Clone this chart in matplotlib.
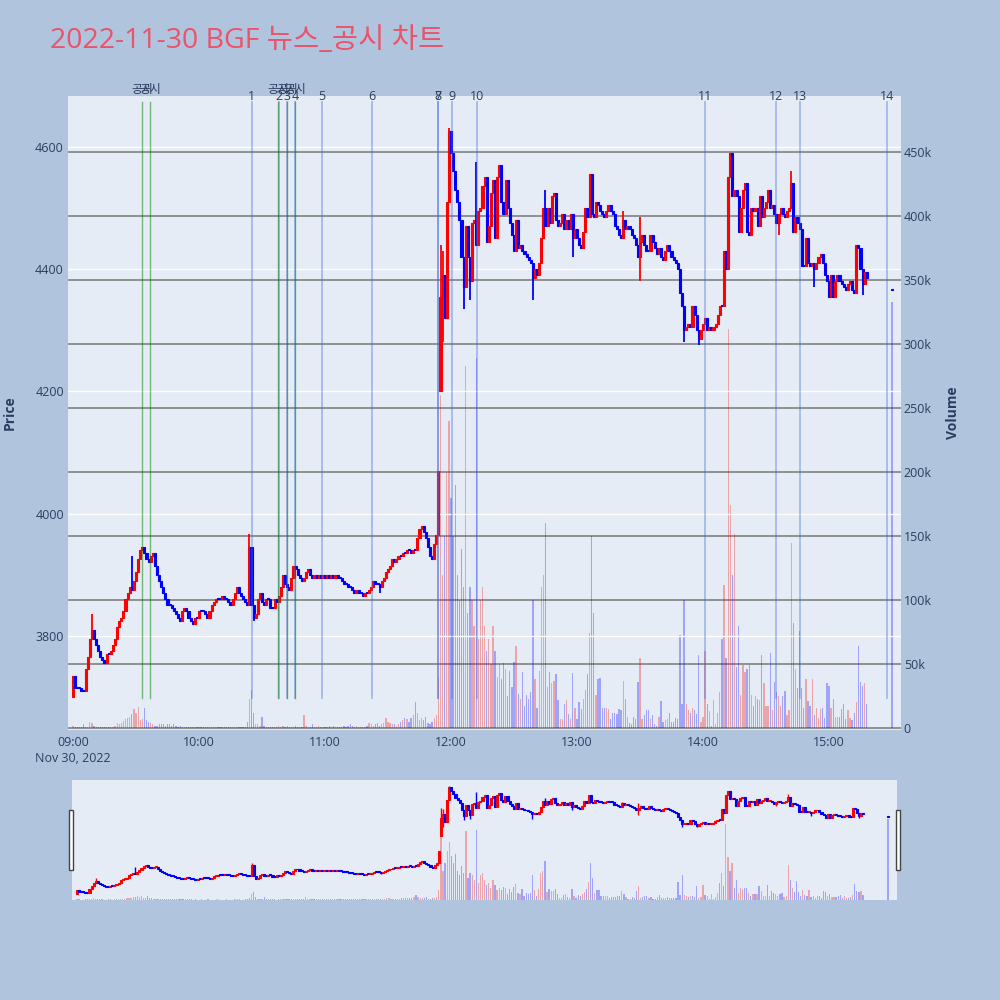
import matplotlib
matplotlib.use('Agg')
import matplotlib.pyplot as plt
from matplotlib.patches import Rectangle
import numpy as np

plt.rcParams['font.family'] = ['Open Sans', 'Noto Sans CJK KR', 'DejaVu Sans']

TITLE = '2022-11-30 BGF 뉴스_공시 차트'

# minute-by-minute close prices, 09:00 .. 15:18
closes = [
    3735, 3715, 3715, 3715, 3710, 3710, 3745, 3765, 3795, 3810,
    3795, 3785, 3775, 3765, 3760, 3755, 3770, 3770, 3775, 3785,
    3795, 3815, 3825, 3830, 3840, 3860, 3870, 3880, 3875, 3890,
    3905, 3925, 3940, 3945, 3935, 3925, 3920, 3930, 3935, 3915,
    3900, 3890, 3880, 3870, 3860, 3850, 3850, 3845, 3840, 3835,
    3830, 3825, 3840, 3845, 3840, 3830, 3825, 3820, 3830, 3830,
    3840, 3840, 3840, 3835, 3830, 3840, 3850, 3855, 3860, 3860,
    3860, 3865, 3860, 3860, 3855, 3850, 3860, 3870, 3880, 3870,
    3865, 3860, 3855, 3850, 3945, 3850, 3830, 3835, 3860, 3870,
    3855, 3850, 3860, 3860, 3845, 3845, 3860, 3855, 3865, 3880,
    3900, 3885, 3880, 3875, 3895, 3915, 3910, 3900, 3895, 3890,
    3895, 3905, 3910, 3900, 3895, 3900, 3895, 3900, 3895, 3900,
    3895, 3900, 3895, 3900, 3895, 3900, 3895, 3895, 3890, 3885,
    3885, 3880, 3880, 3875, 3870, 3875, 3870, 3870, 3865, 3870,
    3870, 3875, 3880, 3890, 3885, 3885, 3880, 3890, 3895, 3905,
    3910, 3915, 3925, 3920, 3925, 3930, 3930, 3935, 3935, 3940,
    3940, 3935, 3940, 3940, 3960, 3975, 3980, 3970, 3960, 3945,
    3930, 3925, 3950, 3965, 4070, 4355, 4390, 4320, 4510, 4625,
    4590, 4560, 4530, 4510, 4480, 4420, 4370, 4470, 4420, 4380,
    4475, 4480, 4440, 4495, 4500, 4535, 4550, 4445, 4470, 4525,
    4545, 4450, 4550, 4570, 4510, 4490, 4545, 4500, 4475, 4455,
    4430, 4480, 4435, 4440, 4430, 4425, 4420, 4415, 4410, 4385,
    4400, 4390, 4410, 4450, 4500, 4470, 4500, 4475, 4520, 4525,
    4480, 4470, 4475, 4490, 4465, 4480, 4465, 4490, 4450, 4465,
    4450, 4440, 4435, 4460, 4500, 4485, 4555, 4490, 4485, 4510,
    4505, 4495, 4490, 4485, 4495, 4505, 4495, 4490, 4470, 4465,
    4455, 4450, 4480, 4465, 4470, 4465, 4455, 4450, 4440, 4420,
    4445, 4455, 4440, 4430, 4430, 4455, 4445, 4435, 4425, 4435,
    4420, 4415, 4430, 4440, 4430, 4420, 4415, 4410, 4400, 4360,
    4340, 4300, 4305, 4310, 4305, 4340, 4325, 4300, 4285, 4300,
    4310, 4320, 4300, 4305, 4300, 4305, 4310, 4325, 4340, 4340,
    4430, 4400, 4550, 4590, 4520, 4530, 4520, 4460, 4500, 4530,
    4540, 4460, 4455, 4500, 4495, 4500, 4470, 4520, 4485, 4500,
    4510, 4530, 4500, 4505, 4490, 4475, 4490, 4500, 4490, 4485,
    4495, 4500, 4540, 4460, 4485, 4475, 4465, 4405, 4405, 4450,
    4410, 4405, 4410, 4400, 4410, 4420, 4425, 4410, 4390, 4380,
    4355, 4390, 4355, 4380, 4390, 4380, 4375, 4370, 4365, 4375,
    4380, 4365, 4360, 4440, 4435, 4400, 4375, 4395, 4385,
]

# minute volumes (thousand shares)
volumes_k = [
    1.3, 1, 0.5, 0.5, 1, 3.4, 1, 1, 4.7, 4,
    2, 1, 1, 0.5, 0.5, 1, 1, 0.5, 1, 1,
    2, 3.9, 3, 4, 5.2, 7, 7.8, 9, 11, 14.8,
    11.7, 16.4, 6.5, 7, 15.6, 6.5, 5, 4, 3, 2,
    2, 3, 3, 3, 2, 3, 3, 2, 3, 2,
    1, 2, 1, 1, 1, 1, 0.5, 1, 0.5, 0.5,
    1, 0.5, 0.5, 1, 0.5, 0.5, 0.5, 1, 1, 0.5,
    0.5, 0.5, 1, 0.5, 0.5, 0.5, 1, 1, 1, 0.5,
    0.5, 1, 1, 5, 23, 30, 12, 3, 3, 2,
    9, 2, 1, 1, 1, 1, 0.5, 1, 2, 1,
    2, 1, 2, 1, 1, 1, 2, 1, 1, 1,
    10, 2, 1, 1, 3, 1, 1, 2, 1, 1,
    1, 1, 2, 1, 2, 1, 1, 1, 1, 2,
    1, 2, 3, 2, 1, 2, 1, 1, 1, 1,
    2, 4, 3, 2, 3, 4, 2, 3, 4, 8,
    5, 4, 3, 3, 2, 3, 5, 6, 8, 7,
    5, 8, 10, 20, 12, 6, 8, 6, 9, 4,
    3, 5, 8, 10, 40, 260, 120, 150, 200, 240,
    180, 150, 190, 120, 100, 140, 110, 283, 90, 110,
    100, 80, 289, 70, 100, 110, 80, 60, 70, 50,
    80, 60, 40, 50, 38, 51, 46, 25, 45, 32,
    52, 64, 27, 23, 44, 17, 26, 23, 28, 100,
    38, 16, 45, 110, 120, 160, 32, 44, 35, 37,
    42, 22, 7, 7, 19, 22, 11, 7, 43, 16,
    7, 20, 15, 23, 30, 42, 74, 150, 90, 26,
    38, 39, 16, 16, 16, 15, 7, 12, 12, 11,
    15, 14, 37, 23, 9, 4, 3, 9, 7, 36,
    55, 7, 10, 14, 14, 7, 10, 3, 2, 9,
    21, 5, 6, 7, 12, 5, 5, 8, 7, 73,
    19, 100, 19, 14, 12, 16, 14, 11, 57, 5,
    9, 60, 19, 13, 2, 22, 3, 12, 28, 70,
    112, 55, 312, 174, 120, 152, 48, 80, 26, 49,
    44, 46, 49, 26, 17, 25, 23, 22, 57, 35,
    17, 17, 59, 14, 36, 28, 25, 17, 25, 29,
    10, 14, 145, 82, 46, 31, 76, 31, 16, 38,
    21, 17, 38, 10, 16, 8, 15, 16, 8, 35,
    33, 16, 23, 9, 9, 9, 15, 19, 7, 14,
    8, 6, 12, 20, 64, 36, 33, 35, 19,
]

open_override = {0: 3700, 175: 4200}
wick_high = {9: 3835, 28: 3930, 84: 3966, 175: 4440, 176: 4430, 179: 4630,
             192: 4575, 225: 4530, 262: 4495, 270: 4485, 314: 4590, 342: 4560}
wick_low = {86: 3825, 146: 3870, 176: 4280, 186: 4335, 189: 4350, 219: 4350,
            238: 4420, 270: 4380, 291: 4280, 298: 4275, 336: 4455, 353: 4370,
            376: 4358}

# closing auction at 15:30
auction_minute = 390
auction_price = 4366
auction_volume_k = 333

# news (numbered) and disclosure (공시) markers, minutes after 09:00
news_minutes = [85, 98.2, 101.9, 105.9, 118.6, 142.2, 173.6, 173.8, 180.6,
                192.5, 300.8, 334.6, 346.2, 387.8]
news_labels = [str(i) for i in range(1, 15)]
disclosure_minutes = [33.0, 36.8, 97.8, 101.8, 105.9]
disclosure_label = '공시'

hour_ticks = [0, 60, 120, 180, 240, 300, 360]
hour_labels = ['09:00', '10:00', '11:00', '12:00', '13:00', '14:00', '15:00']
price_ticks = [3800, 4000, 4200, 4400, 4600]
vol_ticks_k = [0, 50, 100, 150, 200, 250, 300, 350, 400, 450]

# ---------- derive OHLC ----------
n = len(closes)
minutes = list(range(n)) + [auction_minute]
c = list(closes) + [auction_price]
o = []
for i in range(n):
    if i in open_override:
        o.append(open_override[i])
    elif i == 0:
        o.append(closes[0])
    else:
        o.append(closes[i - 1])
o.append(auction_price)
h = [max(o[i], c[i]) for i in range(len(c))]
l = [min(o[i], c[i]) for i in range(len(c))]
for k, v in wick_high.items():
    h[k] = max(h[k], v)
for k, v in wick_low.items():
    l[k] = min(l[k], v)
vol = [v * 1000 for v in volumes_k] + [auction_volume_k * 1000]

x = np.array(minutes, dtype=float)
o = np.array(o, float); c = np.array(c, float)
h = np.array(h, float); l = np.array(l, float)
vol = np.array(vol, float)
up = c > o
RED, BLUE = '#ff0000', '#0000ff'
cols = [RED if u else BLUE for u in up]

BG = '#b0c4de'
PLOT_BG = '#e5ecf6'
TXT = '#2a3f5f'
XLIM = (-2.4, 394.3)
PLIM = (3646, 4683)
VLIM = (-1500, 494000)

fig = plt.figure(figsize=(10, 10), dpi=100, facecolor=BG)


def draw_candles(ax, body_w=1.0, wick_lw=1.3, min_h=1.5, edge=0.8):
    bottoms = np.minimum(o, c)
    heights = np.maximum(np.abs(c - o), min_h)
    ax.vlines(x, l, h, colors=cols, linewidth=wick_lw, zorder=3)
    ax.bar(x, heights, bottom=bottoms, width=body_w, color=cols,
           edgecolor=cols, linewidth=edge, zorder=4)


def draw_volume(ax, w=0.6):
    vcols = [(1, 0, 0, 0.3) if u else (0, 0, 1, 0.3) for u in up]
    ax.bar(x, vol, width=w, color=vcols, linewidth=0, zorder=2)


# ---------- main chart ----------
rect = [0.068, 0.270, 0.833, 0.634]
axv = fig.add_axes(rect)
axv.set_facecolor(PLOT_BG)
draw_volume(axv)
axv.set_xlim(*XLIM)
axv.set_ylim(*VLIM)
axv.yaxis.tick_right()
axv.set_yticks([v * 1000 for v in vol_ticks_k])
axv.set_yticklabels([('0' if v == 0 else f'{v}k') for v in vol_ticks_k])
axv.grid(axis='y', color='#808080', linewidth=1.2, zorder=0)
axv.set_axisbelow(True)
axv.tick_params(axis='y', length=0, pad=2, labelsize=9, labelcolor=TXT)
axv.tick_params(axis='x', length=0, labelbottom=False)
axv.set_xticks([])
for s in axv.spines.values():
    s.set_visible(False)

axp = fig.add_axes(rect, sharex=axv)
axp.patch.set_alpha(0)
axp.set_ylim(*PLIM)
axp.set_xlim(*XLIM)
axp.grid(axis='y', color='white', linewidth=1.0, zorder=0)
axp.set_axisbelow(True)
draw_candles(axp)
axp.set_yticks(price_ticks)
axp.set_xticks(hour_ticks)
axp.set_xticklabels(hour_labels)
axp.tick_params(axis='y', length=0, pad=3, labelsize=9, labelcolor=TXT)
axp.tick_params(axis='x', length=0, pad=4, labelsize=9, labelcolor=TXT)
for s in axp.spines.values():
    s.set_visible(False)

# news / disclosure vertical lines
for m in news_minutes:
    axp.axvline(m, ymin=0.05, ymax=0.99, color=(65/255, 105/255, 225/255, 0.4),
                linewidth=1.3, zorder=5)
for m in disclosure_minutes:
    axp.axvline(m, ymin=0.05, ymax=0.99, color=(0, 0.5, 0, 0.5),
                linewidth=1.0, zorder=5)
for m, lab in zip(news_minutes, news_labels):
    axp.text(m, 0.999, lab, transform=axp.get_xaxis_transform(), ha='center',
             va='center', fontsize=9, color=TXT, zorder=6)
for m in disclosure_minutes:
    axp.text(m, 1.010, disclosure_label, transform=axp.get_xaxis_transform(),
             ha='center', va='center', fontsize=8.5, color=TXT, zorder=6)

fig.text(0.073, 0.242, 'Nov 30, 2022', ha='center', va='center', fontsize=9,
         color=TXT)
fig.text(0.010, 0.587, 'Price', rotation=90, ha='center', va='center',
         fontsize=10, fontweight='bold', color=TXT)
fig.text(0.953, 0.587, 'Volume', rotation=90, ha='center', va='center',
         fontsize=10, fontweight='bold', color=TXT)
fig.text(0.050, 0.959, TITLE, ha='left', va='center', fontsize=20.5,
         color='#e9546b')

# ---------- range slider ----------
srect = [0.072, 0.100, 0.825, 0.120]
asv = fig.add_axes(srect)
asv.set_facecolor(PLOT_BG)
draw_volume(asv, w=0.6)
asv.set_xlim(*XLIM)
asv.set_ylim(*VLIM)
asv.set_xticks([]); asv.set_yticks([])
for s in asv.spines.values():
    s.set_visible(False)
asp = fig.add_axes(srect, sharex=asv)
asp.patch.set_alpha(0)
draw_candles(asp, body_w=1.0, wick_lw=1.0, min_h=8, edge=0.8)
asp.set_ylim(*PLIM)
asp.set_xlim(*XLIM)
asp.set_xticks([]); asp.set_yticks([])
for s in asp.spines.values():
    s.set_visible(False)

for hx in (0.0685, 0.8955):
    fig.patches.append(Rectangle((hx, 0.130), 0.004, 0.060, transform=fig.transFigure,
                                 facecolor='white', edgecolor='#444444',
                                 linewidth=1.0, zorder=10))

fig.savefig('out.png', dpi=100, facecolor=BG)
